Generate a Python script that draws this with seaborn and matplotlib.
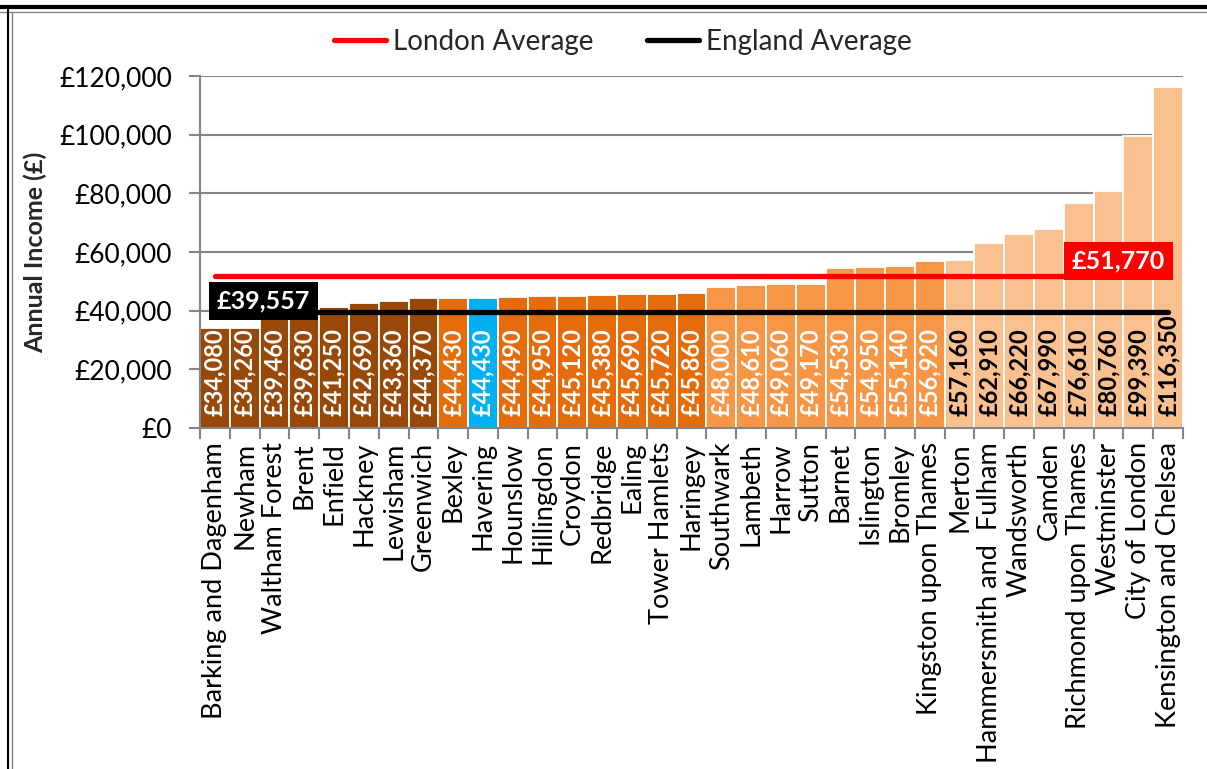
import matplotlib
matplotlib.use("Agg")
import matplotlib.pyplot as plt
from matplotlib.lines import Line2D
from matplotlib.ticker import FuncFormatter, MultipleLocator
import numpy as np
import pandas as pd
import seaborn as sns

# --- data -------------------------------------------------------------
boroughs = [
    "Barking and Dagenham", "Newham", "Waltham Forest", "Brent", "Enfield",
    "Hackney", "Lewisham", "Greenwich", "Bexley", "Havering", "Hounslow",
    "Hillingdon", "Croydon", "Redbridge", "Ealing", "Tower Hamlets",
    "Haringey", "Southwark", "Lambeth", "Harrow", "Sutton", "Barnet",
    "Islington", "Bromley", "Kingston upon Thames", "Merton",
    "Hammersmith and  Fulham", "Wandsworth", "Camden",
    "Richmond upon Thames", "Westminster", "City of London",
    "Kensington and Chelsea",
]
income = [
    34080, 34260, 39460, 39630, 41250, 42690, 43360, 44370, 44430, 44430,
    44490, 44950, 45120, 45380, 45690, 45720, 45860, 48000, 48610, 49060,
    49170, 54530, 54950, 55140, 56920, 57160, 62910, 66220, 67990, 76610,
    80760, 99390, 116350,
]
london_avg = 51770
england_avg = 39557

# --- styling ----------------------------------------------------------
BROWN = "#984807"
ORANGE = "#E46C0A"
LIGHT = "#F79646"
PEACH = "#FAC090"
BLUE = "#00B0F0"
GREY = "#868686"

bar_colors = [BROWN] * 8 + [ORANGE] * 9 + [LIGHT] * 8 + [PEACH] * 8
bar_colors[boroughs.index("Havering")] = BLUE
label_colors = ["white"] * 25 + ["black"] * 8

sns.set_theme(style="white")
plt.rcParams["font.family"] = ["Lato", "DejaVu Sans"]

df = pd.DataFrame({"borough": boroughs, "income": income})

W, H = 1207, 769
fig = plt.figure(figsize=(W / 100, H / 100), dpi=100)
ax = fig.add_axes([200 / W, 1 - 428 / H, 983 / W, 352 / H])

sns.barplot(data=df, x="borough", y="income", hue="borough",
            palette=bar_colors, legend=False, width=1.0, saturation=1,
            errorbar=None, edgecolor="white", linewidth=1.3, ax=ax,
            zorder=2)

n = len(boroughs)
ends = [0, n - 1]
l_lon, = ax.plot(ends, [london_avg] * 2, color="red", lw=3.8,
                 solid_capstyle="round", label="London Average", zorder=3)
l_eng, = ax.plot(ends, [england_avg] * 2, color="black", lw=3.8,
                 solid_capstyle="round", label="England Average", zorder=3)

# value labels inside bars
for i, (v, c) in enumerate(zip(income, label_colors)):
    ax.annotate(f"£{v:,}", xy=(i, 0), xytext=(0, 12),
                textcoords="offset pixels", rotation=90, ha="center",
                va="bottom", color=c, fontweight="bold", fontsize=17,
                zorder=4)

# average boxes
ax.annotate(f"£{london_avg:,}", xy=(n - 1, london_avg), xytext=(-3, 15),
            textcoords="offset pixels", ha="right", va="center",
            color="white", fontweight="bold", fontsize=18,
            bbox=dict(boxstyle="square,pad=0.3", fc="red", ec="none"),
            zorder=5)
ax.annotate(f"£{england_avg:,}", xy=(0, england_avg), xytext=(2, 11),
            textcoords="offset pixels", ha="left", va="center",
            color="white", fontweight="bold", fontsize=18,
            bbox=dict(boxstyle="square,pad=0.3", fc="black", ec="none"),
            zorder=5)

# axes
ax.set_xlim(-0.5, n - 0.5)
ax.set_ylim(0, 120000)
ax.yaxis.set_major_locator(MultipleLocator(20000))
ax.yaxis.set_major_formatter(FuncFormatter(lambda x, _: f"£{x:,.0f}"))
ax.yaxis.grid(True, color=GREY, lw=1.5)
ax.set_axisbelow(True)

ax.set_xticks(np.arange(-0.5, n, 1), minor=True)
ax.tick_params(axis="x", which="major", length=0, pad=10, labelrotation=90,
               labelsize=19.5, labelcolor="black")
ax.tick_params(axis="x", which="minor", length=8, width=1.5, color=GREY,
               direction="out", bottom=True)
ax.tick_params(axis="y", length=8, width=1.5, color=GREY, direction="out",
               left=True, labelsize=19, labelcolor="black", pad=12)

for s in ["top", "right"]:
    ax.spines[s].set_visible(False)
for s in ["left", "bottom"]:
    ax.spines[s].set_color(GREY)
    ax.spines[s].set_linewidth(1.5)

ax.set_xlabel("")
ax.set_ylabel("Annual Income (£)", fontweight="bold", fontsize=18)
ax.yaxis.set_label_coords(-0.155, 0.5)

fig.legend(handles=[l_lon, l_eng], loc="center",
           bbox_to_anchor=(0.516, 1 - 42 / H), ncol=2, frameon=False,
           fontsize=20, handlelength=1.9, handletextpad=0.25,
           columnspacing=1.9)

# frame around the chart
fig.add_artist(Line2D([0, 1], [1 - 7 / H] * 2, color="black", lw=3,
                      transform=fig.transFigure))
fig.add_artist(Line2D([0, 1], [1 - 11.5 / H] * 2, color=GREY, lw=1,
                      transform=fig.transFigure))
fig.add_artist(Line2D([8 / W] * 2, [0, 1 - 7 / H], color="black", lw=1.5,
                      transform=fig.transFigure))
fig.add_artist(Line2D([11.5 / W] * 2, [0, 1 - 11.5 / H], color=GREY, lw=1,
                      transform=fig.transFigure))

fig.savefig("out.png", dpi=100)
